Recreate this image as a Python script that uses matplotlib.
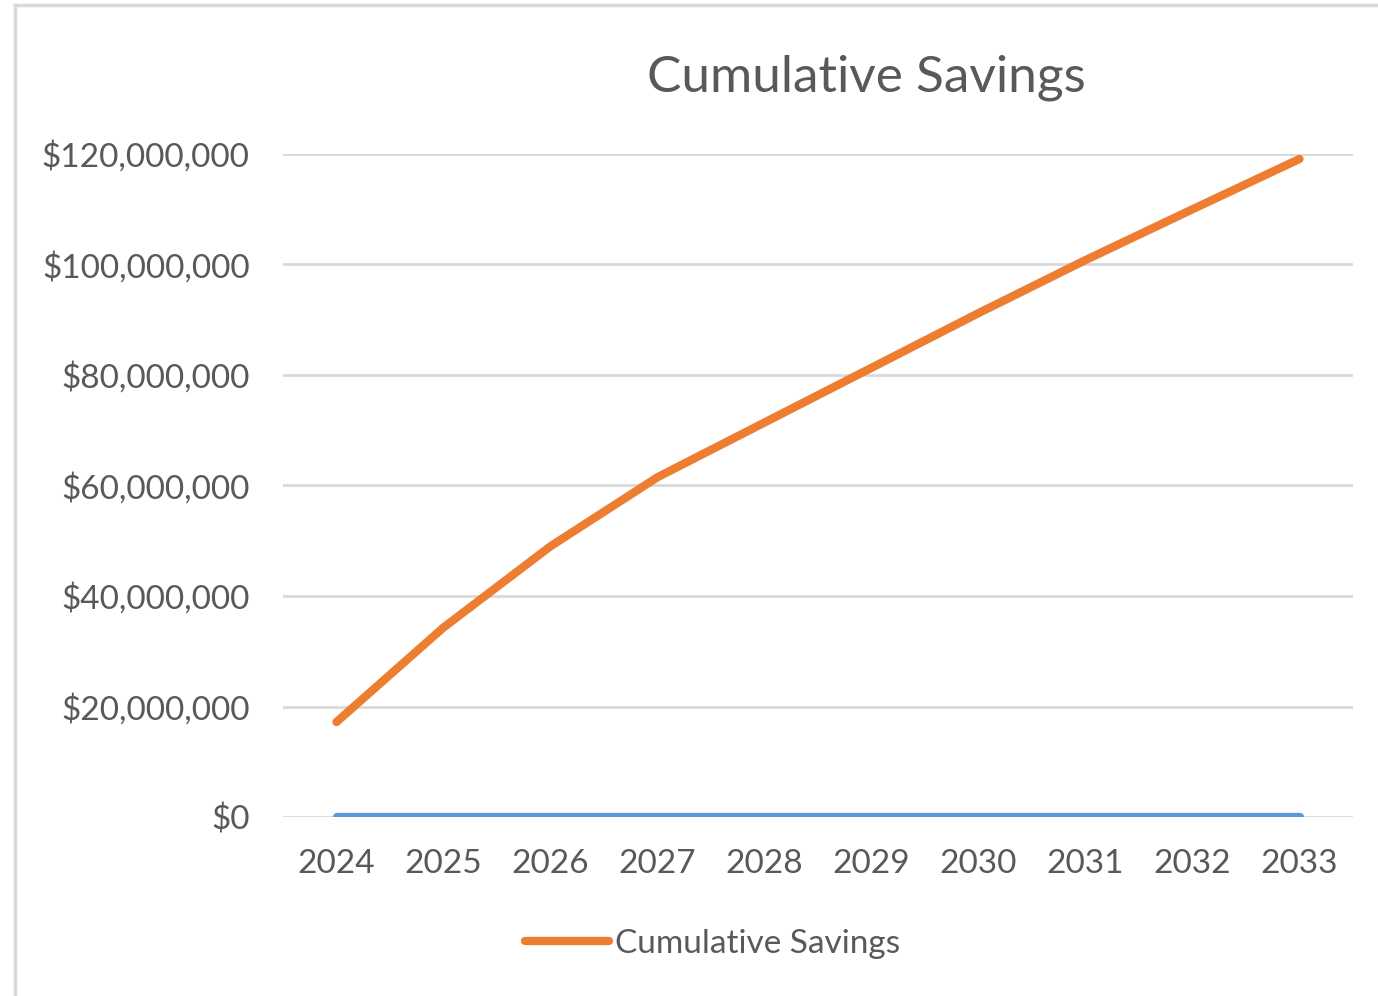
import matplotlib.pyplot as plt
from matplotlib.lines import Line2D
from matplotlib.ticker import FuncFormatter

years = [2024, 2025, 2026, 2027, 2028, 2029, 2030, 2031, 2032, 2033]
cumulative_savings = [17.2e6, 34.3e6, 49.0e6, 61.5e6, 71.4e6, 81.3e6, 91.2e6, 100.8e6, 110.0e6, 119.1e6]
# second series in the sheet is the year column itself, which sits at ~$0 on this scale
year_series = years

ORANGE = "#ED7D31"
BLUE = "#5B9BD5"
GRID = "#D9D9D9"
TEXT = "#595959"

plt.rcParams["font.family"] = ["Lato", "DejaVu Sans"]

fig = plt.figure(figsize=(13.78, 9.96), dpi=100)
ax = fig.add_axes([283 / 1378, 1 - 817 / 996, 1070 / 1378, 663 / 996])

x = list(range(len(years)))
ax.plot(x, year_series, color=BLUE, lw=6, solid_capstyle="round", zorder=3)
ax.plot(x, cumulative_savings, color=ORANGE, lw=6, solid_capstyle="round", zorder=4,
        label="Cumulative Savings")

ax.set_xlim(-0.5, len(years) - 0.5)
ax.set_ylim(0, 120e6)
ax.set_yticks(range(0, 120_000_001, 20_000_000))
ax.yaxis.set_major_formatter(FuncFormatter(lambda v, _: f"${v:,.0f}"))
ax.set_xticks(x)
ax.set_xticklabels([str(y) for y in years])

ax.grid(axis="y", color=GRID, lw=2)
ax.set_axisbelow(True)
for spine in ax.spines.values():
    spine.set_visible(False)
ax.tick_params(axis="y", length=0, pad=24, labelsize=24, labelcolor=TEXT)
ax.tick_params(axis="x", length=0, pad=23, labelsize=24, labelcolor=TEXT)

fig.text(866 / 1378, 1 - 78 / 996, "Cumulative Savings", ha="center", va="center",
         fontsize=37, color=TEXT)

fig.legend(handles=[ax.lines[1]], loc="center", frameon=False,
           bbox_to_anchor=(713 / 1378, 1 - 944 / 996), fontsize=24,
           handlelength=2.5, handletextpad=0.2, labelcolor=TEXT)

# chart area border (left and top edges visible in the crop)
fig.add_artist(Line2D([15 / 1378, 15 / 1378], [0, 1 - 5 / 996], transform=fig.transFigure,
                      color=GRID, lw=2.5))
fig.add_artist(Line2D([15 / 1378, 1], [1 - 5 / 996, 1 - 5 / 996], transform=fig.transFigure,
                      color=GRID, lw=2.5))

fig.savefig("out.png", dpi=100)
